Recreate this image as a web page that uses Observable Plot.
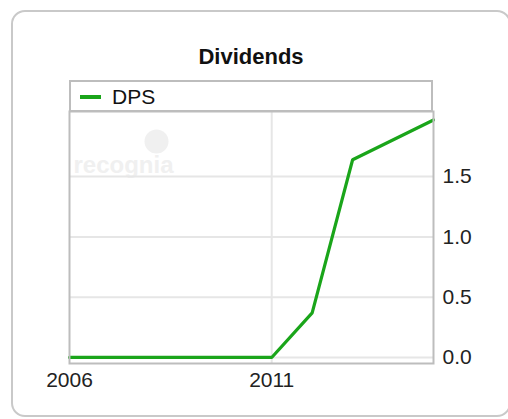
<!DOCTYPE html>
<html>
<head>
<meta charset="utf-8">
<script src="https://cdn.jsdelivr.net/npm/d3@7"></script>
<script src="https://cdn.jsdelivr.net/npm/@observablehq/plot@0.6"></script>
<style>
  html, body { margin: 0; padding: 0; background: #fff; width: 508px; height: 419px; overflow: hidden; }
  body { font-family: "Liberation Sans", Arial, sans-serif; position: relative; }
  #card { position: absolute; left: 11px; top: 10px; width: 500px; height: 407px; border: 2px solid #c9c9c9; border-radius: 14px; box-sizing: border-box; }
  #title { position: absolute; left: 0; width: 502px; top: 44px; text-align: center; font-weight: bold; font-size: 22px; line-height: 26px; color: #111; }
  #legend { position: absolute; left: 69px; top: 80px; width: 364px; height: 32px; border: 2px solid #bdbdbd; box-sizing: border-box; background: #fff; }
  #legend .sw { position: absolute; left: 9px; top: 13px; width: 21px; height: 4px; background: #1aa51a; }
  #legend .lb { position: absolute; left: 41px; top: 3px; font-size: 21px; line-height: 24px; color: #111; }
  #chart { position: absolute; left: 0; top: 0; }
</style>
</head>
<body>
<div id="card"></div>
<div id="chart"></div>
<div id="title">Dividends</div>
<div id="legend"><div class="sw"></div><div class="lb">DPS</div></div>
<script>
const years = [2006, 2007, 2008, 2009, 2010, 2011, 2012, 2013, 2015];
const dps   = [0, 0, 0, 0, 0, 0, 0.37, 1.64, 1.97];
const xTicks = [2006, 2011];
const yTicks = [0, 0.5, 1.0, 1.5];
const seriesName = "DPS";

const data = years.map((y, i) => ({year: y, value: dps[i], series: seriesName}));

const chart = Plot.plot({
  width: 508,
  height: 419,
  marginLeft: 69,
  marginRight: 75,
  marginTop: 111,
  marginBottom: 56,
  style: {background: "transparent", fontFamily: "Liberation Sans, Arial, sans-serif", fontSize: "21px", color: "#222"},
  x: {domain: [2006, 2015], axis: null, label: null},
  y: {domain: [-0.05, 2.04], axis: null, label: null},
  marks: [
    Plot.dot([0], {frameAnchor: "top-left", dx: 87, dy: 30, r: 12, fill: "#f0f0f0", stroke: null}),
    Plot.text(["recognia"], {frameAnchor: "top-left", dx: 4, dy: 54, lineAnchor: "middle", textAnchor: "start", text: d => d, fill: "#f0f0f0", fontSize: 24, fontWeight: "bold"}),
    Plot.gridY(yTicks, {stroke: "#e6e6e6", strokeOpacity: 1, strokeWidth: 2}),
    Plot.gridX([2011], {stroke: "#e6e6e6", strokeOpacity: 1, strokeWidth: 2}),
    Plot.line(data, {x: "year", y: "value", stroke: "#1aa51a", strokeWidth: 3.2, strokeLinejoin: "miter"}),
    Plot.frame({stroke: "#bdbdbd", strokeWidth: 2}),
    Plot.axisY(yTicks, {anchor: "right", label: null, tickSize: 0, tickPadding: 9, tickFormat: d3.format(".1f"), fontSize: 21, fill: "#222"}),
    Plot.axisX(xTicks, {anchor: "bottom", label: null, tickSize: 0, tickPadding: 9, tickFormat: d => String(d), fontSize: 21, fill: "#222"})
  ]
});
document.getElementById("chart").appendChild(chart);
</script>
</body>
</html>
